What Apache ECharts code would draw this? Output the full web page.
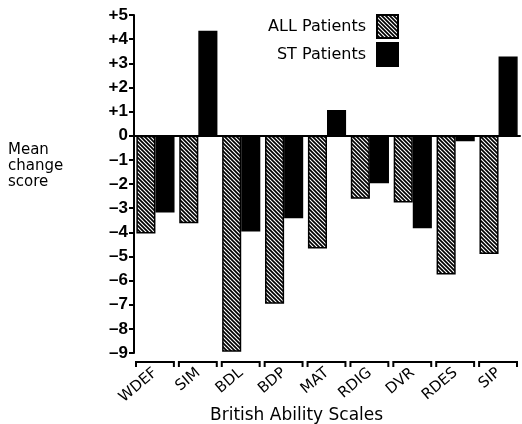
<!DOCTYPE html>
<html><head><meta charset="utf-8">
<script src="https://cdn.jsdelivr.net/npm/echarts@6/dist/echarts.min.js"></script>
<style>html,body{margin:0;padding:0;background:#fff}#c{width:522px;height:424px}</style>
</head><body><div id="c"></div>
<script>
const categories = ['WDEF','SIM','BDL','BDP','MAT','RDIG','DVR','RDES','SIP'];
const allPatients = [-4.05, -3.63, -8.95, -6.96, -4.67, -2.61, -2.77, -5.75, -4.9];
const stPatients  = [-3.18, 4.35, -3.97, -3.42, 1.07, -1.97, -3.83, -0.23, 3.28];
const yTicks = [-9,-8,-7,-6,-5,-4,-3,-2,-1,0,1,2,3,4,5];

const FONT = 'DejaVu Sans';
function hatch(){
  const s = 4, cv = document.createElement('canvas');
  cv.width = s; cv.height = s;
  const g = cv.getContext('2d');
  g.fillStyle = '#fff'; g.fillRect(0,0,s,s);
  g.strokeStyle = '#000'; g.lineWidth = 1.7;
  for (const k of [-s,0,s]) { g.beginPath(); g.moveTo(k-1,-1); g.lineTo(k+s+1,s+1); g.stroke(); }
  return {image: cv, repeat: 'repeat'};
}
const chart = echarts.init(document.getElementById('c'), null, {renderer:'canvas'});
chart.setOption({
  animation:false,
  textStyle:{fontFamily:FONT},
  grid:{left:134, right:2, top:15, bottom:71},
  legend:{
    data:['ALL Patients','ST Patients'], orient:'vertical', align:'right', icon:'rect',
    right:123, top:14, padding:0, itemWidth:21, itemHeight:23, itemGap:3,
    textStyle:{fontFamily:FONT, fontSize:16, color:'#000', padding:[0,6,0,0]},
    selectedMode:false
  },
  xAxis:[
    {type:'category', data:categories, position:'bottom',
     axisLine:{onZero:true, lineStyle:{color:'#000', width:2}},
     axisTick:{show:false}, axisLabel:{show:false}},
    {type:'category', data:categories, position:'bottom',
     axisLine:{show:false, onZero:false}, axisTick:{show:false},
     axisLabel:{rotate:40, margin:18, fontFamily:FONT, fontSize:15, color:'#000'}}
  ],
  yAxis:{type:'value', min:-9, max:5, interval:1, splitLine:{show:false},
    axisLine:{show:true, lineStyle:{color:'#000', width:2}},
    axisTick:{show:true, length:5, lineStyle:{width:2}},
    axisLabel:{fontFamily:'Liberation Sans', fontSize:17, fontWeight:'bold', color:'#000', margin:6,
      formatter:v => yTicks.includes(v) ? (v>0 ? '+'+v : v<0 ? '\u2013'+Math.abs(v) : '0') : ''}},
  graphic:[
    {type:'text', left:8, top:142, style:{text:'Mean\nchange\nscore', font:'15px '+FONT, fill:'#000', lineHeight:16}},
    {type:'text', left:210, top:407, style:{text:'British Ability Scales', font:'17px '+FONT, fill:'#000'}}
  ],
  series:[
    {name:'ALL Patients', type:'bar', data:allPatients, barGap:'0%', barCategoryGap:'11%',
     itemStyle:{color:hatch(), borderColor:'#000', borderWidth:1.5}},
    {name:'ST Patients', type:'bar', data:stPatients,
     itemStyle:{color:'#000', borderColor:'#000', borderWidth:1.5}},
    {type:'custom', xAxisIndex:0, data:categories.map((c,i)=>[i]), clip:false, silent:true,
     renderItem:function(params, api){
       const c = api.coord([api.value(0), -9]);
       const w = api.size([1,0])[0];
       const l = c[0]-w/2+2, r = c[0]+w/2-3, y = c[1]+9;
       return {type:'polyline', shape:{points:[[l,y+5],[l,y],[r,y],[r,y+5]]},
         style:{stroke:'#000', lineWidth:2, fill:null}};
     }}
  ]
});
</script></body></html>
